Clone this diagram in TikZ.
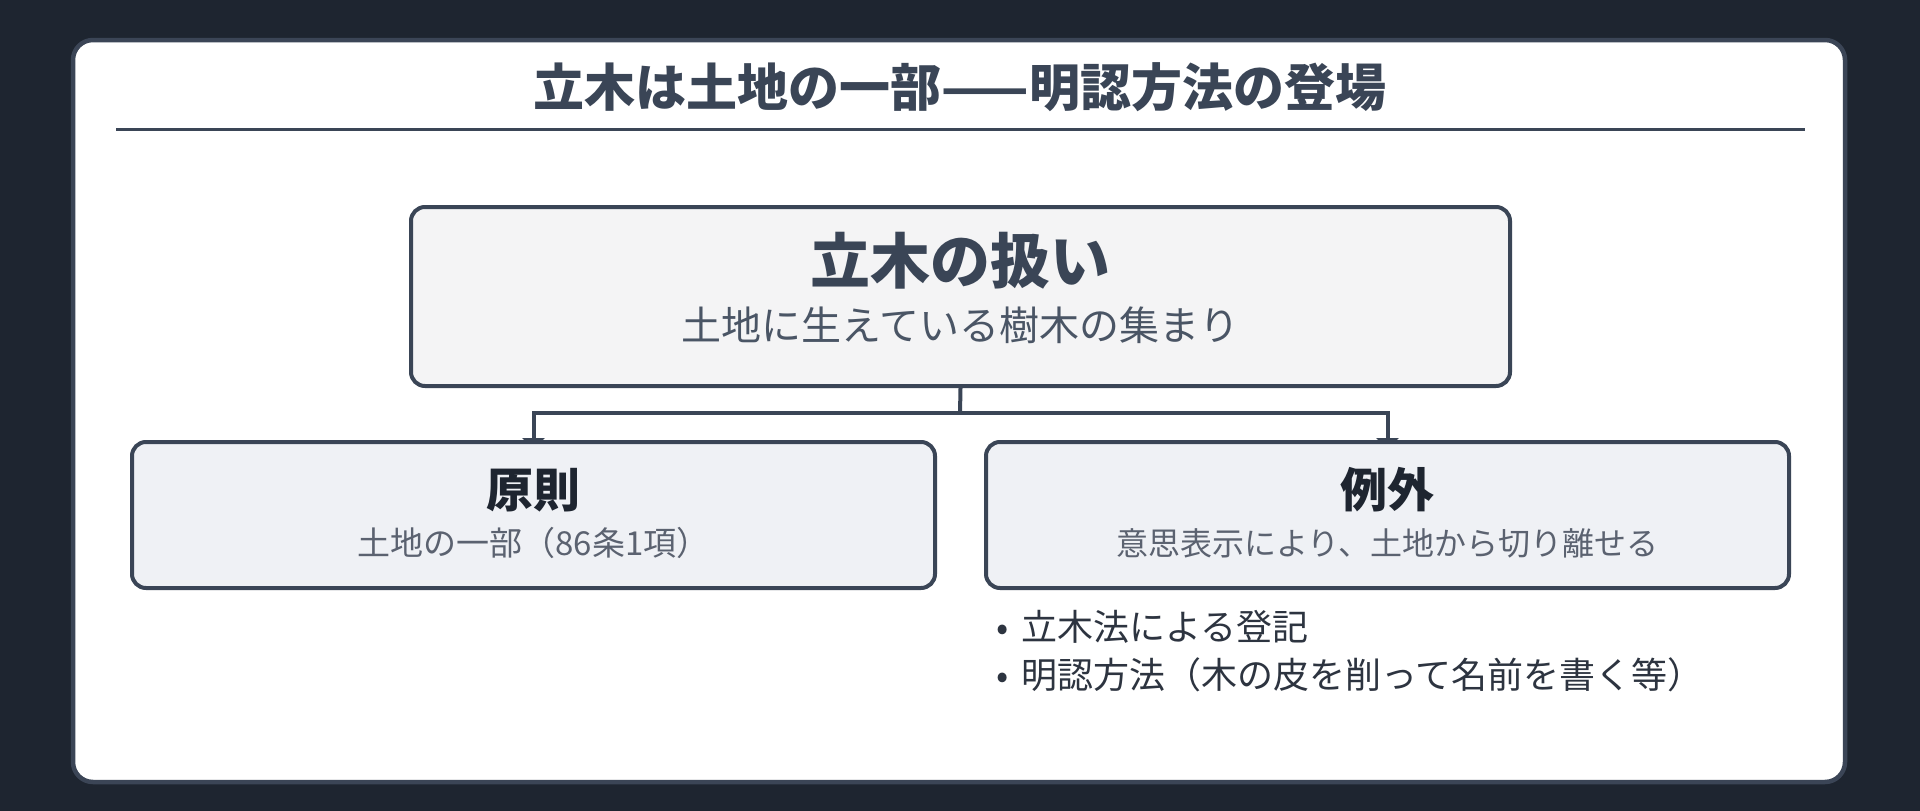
\documentclass[tikz,border=0pt]{standalone}
\usepackage{fontspec}
\setmainfont{Noto Sans CJK JP}
\usetikzlibrary{arrows.meta}
\pgfdeclarelayer{front}
\pgfsetlayers{main,front}
\definecolor{bgdark}{HTML}{1E2530}
\definecolor{cardline}{HTML}{3B4556}
\definecolor{slate}{HTML}{3A4556}
\definecolor{subgray}{HTML}{4A5565}
\definecolor{topfill}{HTML}{F4F4F5}
\definecolor{childfill}{HTML}{EFF1F5}
\definecolor{headdark}{HTML}{1E2530}
\definecolor{childsub}{HTML}{5B6270}
\definecolor{bullettext}{HTML}{2D3440}
\tikzset{
  boxstyle/.style={draw=slate, line width=4pt, rounded corners=14pt, inner sep=0pt},
  conn/.style={draw=slate, line width=4pt},
  tipped/.style={-{Triangle[length=12pt,width=22pt]}},
  txt/.style={inner sep=0pt, anchor=center},
}
\begin{document}
\begin{tikzpicture}[x=1pt,y=-1pt]
\useasboundingbox (0,0) rectangle (1920,811);
\fill[bgdark] (0,0) rectangle (1920,811);
% card
\node[draw=cardline, fill=white, line width=4.5pt, rounded corners=20pt, minimum width=1772pt, minimum height=742pt, inner sep=0pt] (card) at (959,411) {};
% title
\node[txt, text=slate] (title) at (960,87) {\fontsize{51}{60}\selectfont\bfseries 立木は土地の一部——明認方法の登場};
\coordinate (ruleL) at (116,129);
\coordinate (ruleR) at (1805,129);
\draw[draw=slate, line width=3pt] (ruleL) -- (ruleR);
% top box
\node[boxstyle, fill=topfill, minimum width=1099pt, minimum height=179pt] (top) at (960.5,296.5) {};
\node[txt, text=slate] (tophead) at (960,261) {\fontsize{60}{70}\selectfont\bfseries 立木の扱い};
\node[txt, text=subgray] (topsub) at (960,325) {\fontsize{40}{48}\selectfont 土地に生えている樹木の集まり};
% child boxes (front layer, over the connector tips)
\begin{pgfonlayer}{front}
\node[boxstyle, fill=childfill, minimum width=803pt, minimum height=146pt] (left) at (533.5,515) {};
\node[boxstyle, fill=childfill, minimum width=803pt, minimum height=146pt] (right) at (1387.5,515) {};
\node[txt, text=headdark] (lefthead) at (533.5,490) {\fontsize{47}{55}\selectfont\bfseries 原則};
\node[txt, text=childsub] (leftsub) at (533.5,543) {\fontsize{33}{39}\selectfont 土地の一部（86条1項）};
\node[txt, text=headdark] (righthead) at (1387.5,490) {\fontsize{47}{55}\selectfont\bfseries 例外};
\node[txt, text=childsub] (rightsub) at (1387.5,543) {\fontsize{32}{38}\selectfont 意思表示により、土地から切り離せる};
\end{pgfonlayer}
% connectors
\coordinate (junction) at (960,413);
\draw[conn] (top.south) -- (junction);
\draw[conn, tipped] (junction) -| ([yshift=-10pt]left.north);
\draw[conn, tipped] (junction) -| ([yshift=-10pt]right.north);
% bullets
\node[txt, anchor=west, text=bullettext] (b1) at (996,627) {\fontsize{36}{42}\selectfont •\hspace{13pt}立木法による登記};
\node[txt, anchor=west, text=bullettext] (b2) at (996,675) {\fontsize{36}{42}\selectfont •\hspace{13pt}明認方法（木の皮を削って名前を書く等）};
\end{tikzpicture}
\end{document}
